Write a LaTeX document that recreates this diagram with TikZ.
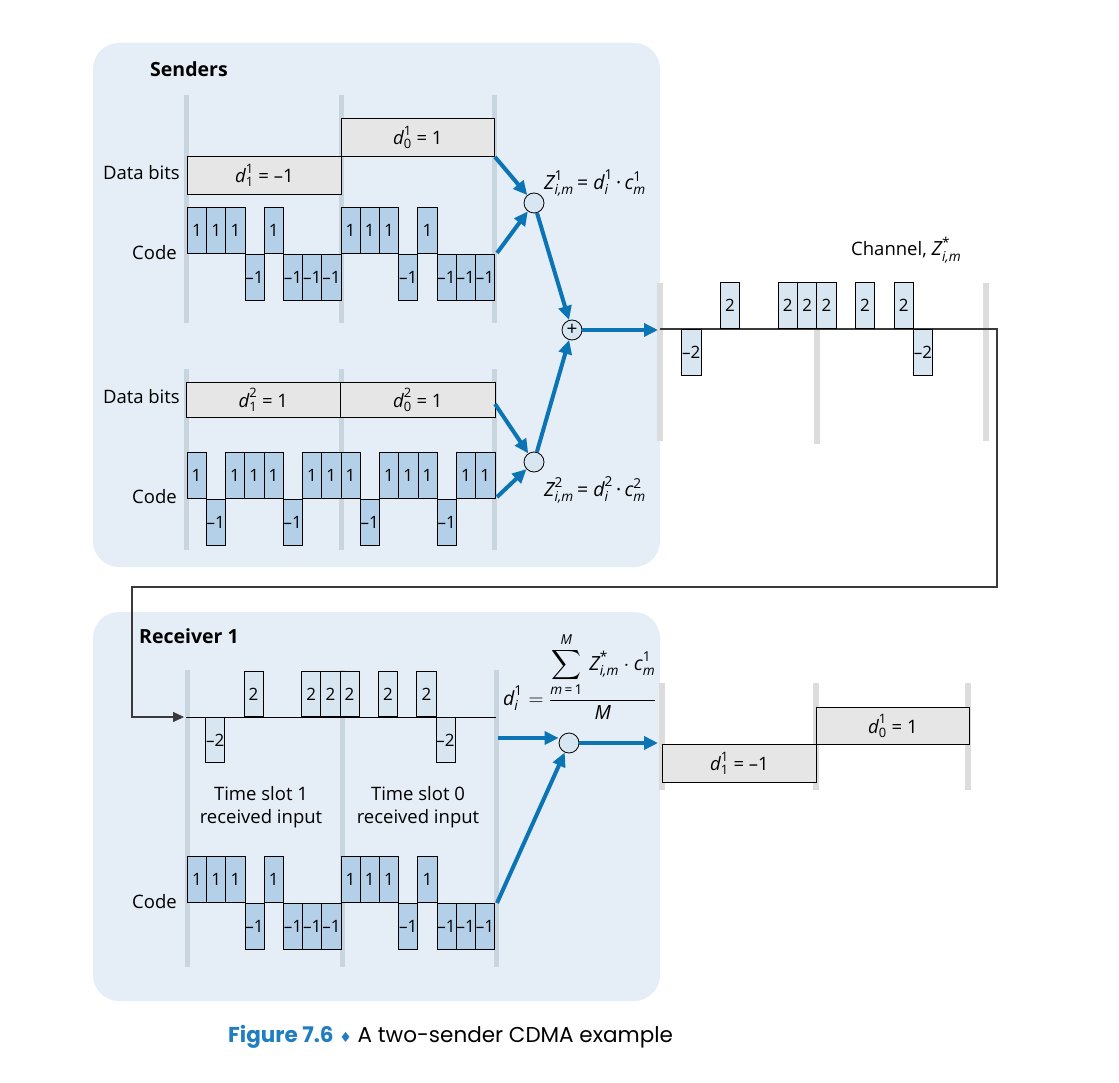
\documentclass[tikz,border=0pt]{standalone}
\usepackage{amsmath}
\usepackage{fontspec}
\setmainfont{Open Sans}
\newfontfamily\capfont{Poppins}
\newfontfamily\symfont{DejaVu Sans}
\usetikzlibrary{arrows.meta}

\definecolor{panelfill}{HTML}{E5EDF6}
\definecolor{barin}{HTML}{C8D4DE}
\definecolor{barout}{HTML}{DCDCDC}
\definecolor{chipdark}{HTML}{B3D0E8}
\definecolor{chiplight}{HTML}{D8E6F2}
\definecolor{boxgray}{HTML}{E6E6E6}
\definecolor{flowblue}{HTML}{0A74B5}
\definecolor{capblue}{HTML}{1F7EC1}
\definecolor{connline}{HTML}{3A3A3A}

\newcommand\bodyfont{\fontsize{18.5}{23}\selectfont}
\newcommand\chipfont{\fontsize{17}{19}\selectfont}
\newcommand\formfont{\fontsize{19.5}{23}\selectfont}
% italic letter with superscript and subscript
\newcommand\sx[3]{\ensuremath{\text{\itshape #1}^{\text{#2}}_{\text{#3}}}}

% one row of chips: name prefix, x0, baseline, chip width, height, style, values
\newcommand\chiprow[7]{%
  \foreach \v [count=\k from 0] in {#7} {%
    \pgfmathsetmacro\xx{#2+\k*#4}%
    \pgfmathtruncatemacro\av{abs(\v)}%
    \ifnum\v>0
      \node[chip,#6,anchor=south west,minimum width=#4pt,minimum height=#5pt] (#1\k) at (\xx,#3) {\av};
    \else\ifnum\v<0
      \node[chip,#6,anchor=north west,minimum width=#4pt,minimum height=#5pt] (#1\k) at (\xx,#3) {–\av};
    \fi\fi
  }%
}

\tikzset{
  chip/.style={draw=black,line width=0.8pt,inner sep=0pt,font=\chipfont},
  dark/.style={fill=chipdark},
  light/.style={fill=chiplight},
  databox/.style={draw=black,line width=0.8pt,fill=boxgray,inner sep=0pt,anchor=north west},
  barI/.style={draw=barin,line width=5pt},
  barO/.style={draw=barout,line width=5.5pt},
  mult/.style={circle,draw=black,line width=0.8pt,fill=chiplight,minimum size=20pt,inner sep=0pt,font=\fontsize{19}{19}\selectfont},
  flow/.style={draw=flowblue,line width=4pt,-{Triangle[length=14pt,width=13pt]}},
  conn/.style={draw=connline,line width=1.1pt,-{Triangle[length=11pt,width=10pt]}},
  label/.style={inner sep=0pt},
  formula/.style={inner sep=0pt,font=\formfont},
  title/.style={inner sep=0pt,font=\fontsize{19.5}{23}\selectfont\bfseries},
}

\begin{document}
\begin{tikzpicture}[x=1pt,y=-1pt,font=\bodyfont]
\useasboundingbox (0,0) rectangle (1119,1083);
\fill[white] (0,0) rectangle (1119,1083);

% shaded panels
\fill[panelfill,rounded corners=26pt] (93,43) rectangle (660,567);
\fill[panelfill,rounded corners=26pt] (93,612) rectangle (660,1001);

% slot boundaries
\foreach \x in {186.7,341,494.5} {
  \draw[barI] (\x,95) -- (\x,323);
  \draw[barI] (\x,369) -- (\x,550);
}
\foreach \x in {187,342,496} \draw[barI] (\x,670) -- (\x,967);
\draw[barO] (660,283) -- (660,441);
\draw[barO] (817,283) -- (817,444);
\draw[barO] (986,283) -- (986,441);
\foreach \x in {662,816,968} \draw[barO] (\x,683) -- (\x,790);

% titles and row labels
\node[title,anchor=west] (tsend) at (150,69) {Senders};
\node[title,anchor=west] (trecv) at (139,636) {Receiver 1};
\node[label,anchor=east] (ldata1) at (180,173) {Data bits};
\node[label,anchor=east] (lcode1) at (177,253) {Code};
\node[label,anchor=east] (ldata2) at (180,397) {Data bits};
\node[label,anchor=east] (lcode2) at (177,497) {Code};
\node[label,anchor=east] (lcode3) at (177,902) {Code};

% data bits of sender 1 and sender 2
\node[databox,minimum width=154pt,minimum height=38pt] (s1d1) at (187,156) {\sx{d}{1}{1} = –1};
\node[databox,minimum width=153pt,minimum height=38pt] (s1d0) at (341,118) {\sx{d}{1}{0} = 1};
\node[databox,minimum width=154pt,minimum height=35pt] (s2d1) at (186,382) {\sx{d}{2}{1} = 1};
\node[databox,minimum width=155pt,minimum height=35pt] (s2d0) at (340,382) {\sx{d}{2}{0} = 1};

% chip sequences
\chiprow{sa}{187}{254}{19.2}{46}{dark}{1,1,1,-1,1,-1,-1,-1,1,1,1,-1,1,-1,-1,-1}
\chiprow{sb}{186.5}{499}{19.25}{46}{dark}{1,-1,1,1,1,-1,1,1,1,-1,1,1,1,-1,1,1}

% channel signal, carried on to the receiver
\coordinate (chL) at (660,329);
\coordinate (chR) at (997,329);
\coordinate (down) at (997,587);
\coordinate (back) at (132,587);
\coordinate (rxIn) at (184,717);
\draw[conn] (chL) -- (chR) -- (down) -- (back) |- (rxIn);
\chiprow{ch}{662}{329}{19.3}{46}{light}{0,-2,0,2,0,0,2,2,2,0,2,0,2,-2,0,0}
\node[label,anchor=west] (lchan) at (851,250) {Channel, {\formfont\sx{Z}{*}{\itshape i,m}}};

% receiver input and code
\draw[black,line width=1pt] (186,717) -- (496,717);
\chiprow{rx}{186}{717}{19.2}{45}{light}{0,-2,0,2,0,0,2,2,2,0,2,0,2,-2,0,0}
\chiprow{rc}{187}{903}{19.2}{46}{dark}{1,1,1,-1,1,-1,-1,-1,1,1,1,-1,1,-1,-1,-1}
\node[label,align=center] (ts1) at (261,807) {Time slot 1\\received input};
\node[label,align=center] (ts0) at (418,807) {Time slot 0\\received input};

% combiners
\node[mult] (m1) at (534,203) {};
\node[mult] (m2) at (534,462) {};
\node[mult] (add) at (572,330) {+};
\node[mult] (rcv) at (569,743) {};

\node[formula,anchor=west] (z1) at (544,183) {\sx{Z}{1}{\itshape i,m}\,= \sx{d}{1}{\itshape i}\,·\,\sx{c}{1}{\itshape m}};
\node[formula,anchor=west] (z2) at (544,490) {\sx{Z}{2}{\itshape i,m}\,= \sx{d}{2}{\itshape i}\,·\,\sx{c}{2}{\itshape m}};
\node[formula,anchor=west] (fdec) at (503,676) {$\text{\itshape d}^{\text{1}}_{\text{\itshape i}} = \dfrac{\displaystyle\sum_{\text{\itshape m\,\upshape =\,1}}^{\text{\itshape M}}\, \text{\itshape Z}^{\text{*}}_{\text{\itshape i,m}}\cdot\text{\itshape c}^{\text{1}}_{\text{\itshape m}}}{\text{\itshape M}}$};

% flows
\coordinate (s1dOut) at (495,157);
\coordinate (s1cOut) at (497,253);
\coordinate (s2dOut) at (495,404);
\coordinate (s2cOut) at (497,497);
\coordinate (chIn) at (658,330);
\coordinate (rIn) at (498,738);
\coordinate (rCode) at (497,903);
\coordinate (outIn) at (658,743);
\draw[flow] (s1dOut) -- (m1);
\draw[flow] (s1cOut) -- (m1);
\draw[flow] (s2dOut) -- (m2);
\draw[flow] (s2cOut) -- (m2);
\draw[flow] (m1) -- (add);
\draw[flow] (m2) -- (add);
\draw[flow] (add) -- (chIn);
\draw[flow] (rIn) -- (rIn -| rcv.west);
\draw[flow] (rCode) -- (rcv);
\draw[flow] (rcv) -- (outIn);

% decoded bits
\node[databox,minimum width=154pt,minimum height=38pt] (o1) at (662,744) {\sx{d}{1}{1} = –1};
\node[databox,minimum width=153pt,minimum height=37pt] (o0) at (816,707) {\sx{d}{1}{0} = 1};

% caption
\node[label,anchor=west] (cap) at (228,1037) {\capfont\fontsize{21.5}{25}\selectfont{\bfseries\color{capblue}Figure 7.6} {\symfont\fontsize{14}{14}\selectfont\color{capblue}♦} A two-sender CDMA example};
\end{tikzpicture}
\end{document}
